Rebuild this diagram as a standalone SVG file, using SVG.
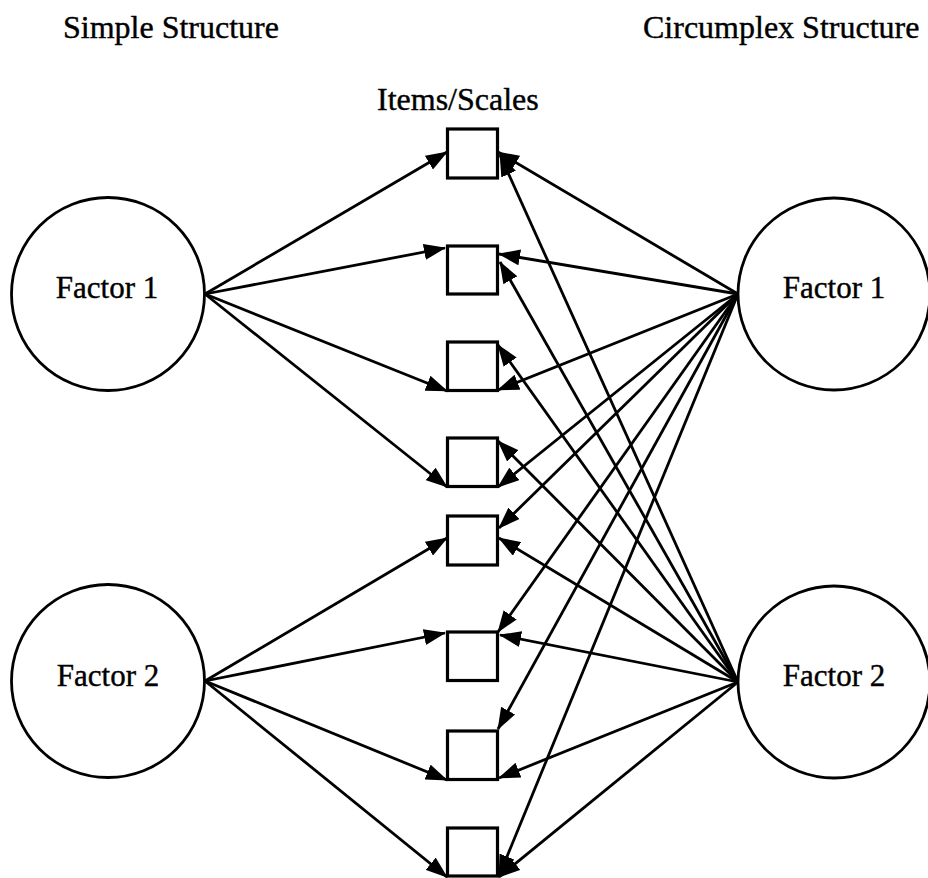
<svg xmlns="http://www.w3.org/2000/svg" width="928" height="878" viewBox="0 0 928 878">
  <style>
    .title { font-family: "Liberation Serif", "Times New Roman", serif; font-size: 32px; fill: #000; stroke: #000; stroke-width: 0.4; }
    .label { font-family: "Liberation Serif", "Times New Roman", serif; font-size: 31px; fill: #000; stroke: #000; stroke-width: 0.4; text-anchor: middle; }
    .factor { fill: #fff; stroke: #000; stroke-width: 2.8; }
    .item { fill: #fff; stroke: #000; stroke-width: 3.2; }
    .link { stroke: #000; stroke-width: 2.8; fill: none; marker-end: url(#arrow); }
  </style>
  <defs>
    <marker id="arrow" viewBox="0 0 22 16" refX="21" refY="8" markerWidth="22" markerHeight="16" markerUnits="userSpaceOnUse" orient="auto">
      <path d="M0,0 L22,8 L0,16 z" fill="#000"/>
    </marker>
  </defs>
  <rect width="928" height="878" fill="#fff"/>

  <!-- headings -->
  <text class="title" x="63" y="38">Simple Structure</text>
  <text class="title" x="643" y="38">Circumplex Structure</text>
  <text class="title" x="377" y="110">Items/Scales</text>

  <!-- loadings -->
  <g id="connectors">
    <!-- simple structure: each item loads on one factor -->
    <line class="link" x1="205" y1="294" x2="447" y2="152"/>
    <line class="link" x1="205" y1="294" x2="445" y2="248"/>
    <line class="link" x1="205" y1="294" x2="447" y2="391"/>
    <line class="link" x1="205" y1="294" x2="447" y2="487"/>
    <line class="link" x1="205" y1="681" x2="447" y2="538"/>
    <line class="link" x1="205" y1="681" x2="445" y2="633"/>
    <line class="link" x1="205" y1="681" x2="447" y2="780"/>
    <line class="link" x1="205" y1="681" x2="447" y2="877"/>
    <!-- circumplex structure: every item loads on both factors -->
    <line class="link" x1="738" y1="294" x2="498" y2="152"/>
    <line class="link" x1="738" y1="294" x2="499" y2="254"/>
    <line class="link" x1="738" y1="294" x2="498" y2="390"/>
    <line class="link" x1="738" y1="294" x2="498" y2="487"/>
    <line class="link" x1="738" y1="294" x2="499" y2="528"/>
    <line class="link" x1="738" y1="294" x2="498" y2="632"/>
    <line class="link" x1="738" y1="294" x2="498" y2="729"/>
    <line class="link" x1="738" y1="294" x2="499" y2="876"/>
    <line class="link" x1="738" y1="682" x2="500" y2="155"/>
    <line class="link" x1="738" y1="682" x2="500" y2="262"/>
    <line class="link" x1="738" y1="682" x2="498" y2="345"/>
    <line class="link" x1="738" y1="682" x2="498" y2="441"/>
    <line class="link" x1="738" y1="682" x2="499" y2="538"/>
    <line class="link" x1="738" y1="682" x2="500" y2="635"/>
    <line class="link" x1="738" y1="682" x2="499" y2="778"/>
    <line class="link" x1="738" y1="682" x2="499" y2="877"/>
  </g>

  <!-- factors -->
  <g id="simple-factor1">
    <circle class="factor" cx="108" cy="294" r="96.5"/>
    <text class="label" x="107" y="298">Factor 1</text>
  </g>
  <g id="simple-factor2">
    <circle class="factor" cx="108" cy="681" r="96.5"/>
    <text class="label" x="108" y="686">Factor 2</text>
  </g>
  <g id="circumplex-factor1">
    <circle class="factor" cx="834" cy="294" r="96"/>
    <text class="label" x="834" y="298">Factor 1</text>
  </g>
  <g id="circumplex-factor2">
    <circle class="factor" cx="834" cy="682" r="96"/>
    <text class="label" x="834" y="686">Factor 2</text>
  </g>

  <!-- items -->
  <g id="item1"><rect class="item" x="447.5" y="129" width="50" height="49"/></g>
  <g id="item2"><rect class="item" x="447.5" y="246" width="50" height="48"/></g>
  <g id="item3"><rect class="item" x="447.5" y="342" width="50" height="48.5"/></g>
  <g id="item4"><rect class="item" x="447.5" y="438" width="50" height="48.5"/></g>
  <g id="item5"><rect class="item" x="447.5" y="516" width="50" height="49"/></g>
  <g id="item6"><rect class="item" x="447.5" y="632" width="50" height="48.5"/></g>
  <g id="item7"><rect class="item" x="447.5" y="731" width="50" height="48.5"/></g>
  <g id="item8"><rect class="item" x="447.5" y="828" width="50" height="48"/></g>
</svg>
